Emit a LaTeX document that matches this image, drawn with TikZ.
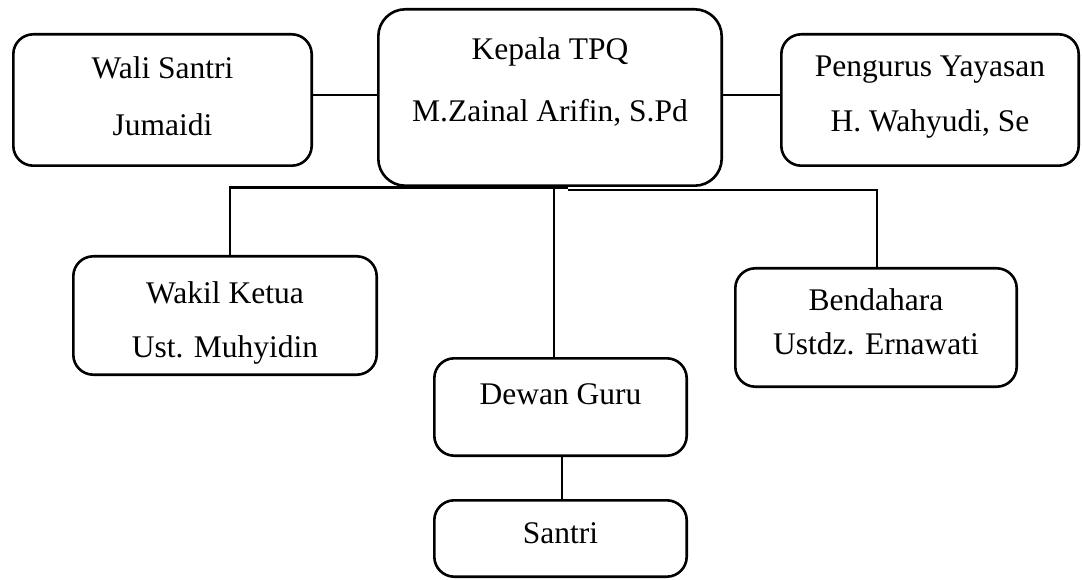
\documentclass[tikz,border=0pt]{standalone}
\usepackage{fontspec}
\setmainfont{Liberation Serif}
\tikzstyle{unit} = [rectangle, rounded corners=20pt, line width=2.6pt, draw=black, inner sep=0pt]
\tikzstyle{head} = [unit, rounded corners=27pt]
\tikzstyle{boxtext} = [anchor=base, inner sep=0pt, font=\fontsize{31.5}{38}\selectfont]
\tikzstyle{link} = [line width=2.5pt]

\begin{document}
\begin{tikzpicture}[x=1pt,y=-1pt]
    \useasboundingbox (0,0) rectangle (1082,580);

    \node at (162.5,100) [unit, minimum width=298.4pt, minimum height=131.4pt] (wali) {};
    \node at (550,97.5) [head, minimum width=343.4pt, minimum height=176.4pt] (kepala) {};
    \node at (930,100) [unit, minimum width=297.4pt, minimum height=131.4pt] (pengurus) {};
    \node at (225,315.5) [unit, minimum width=303.4pt, minimum height=118.4pt] (wakil) {};
    \node at (876,327.5) [unit, minimum width=281.4pt, minimum height=118.4pt] (bendahara) {};
    \node at (560.5,407) [unit, minimum width=252.4pt, minimum height=97.4pt] (dewan) {};
    \node at (560.5,538.5) [unit, minimum width=252.4pt, minimum height=76.4pt] (santri) {};

    \node at (162.5,79) [boxtext] (wali1) {Wali Santri};
    \node at (162.5,136) [boxtext] (wali2) {Jumaidi};
    \node at (550,60) [boxtext] (kepala1) {Kepala TPQ};
    \node at (550,122) [boxtext] (kepala2) {M.Zainal Arifin, S.Pd};
    \node at (930,77) [boxtext] (pengurus1) {Pengurus Yayasan};
    \node at (930,132) [boxtext] (pengurus2) {H. Wahyudi, Se};
    \node at (225,303) [boxtext] (wakil1) {Wakil Ketua};
    \node at (225,357) [boxtext] (wakil2) {Ust. Muhyidin};
    \node at (876,310) [boxtext] (bendahara1) {Bendahara};
    \node at (876,354) [boxtext] (bendahara2) {Ustdz. Ernawati};
    \node at (560.5,404) [boxtext] (dewan1) {Dewan Guru};
    \node at (560.5,543) [boxtext] (santri1) {Santri};

    \coordinate (tie) at (0,95);
    \coordinate (busL) at (230,187.5);
    \coordinate (busM) at (568,187.5);
    \coordinate (busR) at (877,190);
    \coordinate (drop) at (554,187.5);
    \coordinate (stem) at (562,0);

    \draw[link] (wali.east |- tie) -- (kepala.west |- tie);
    \draw[link] (kepala.east |- tie) -- (pengurus.west |- tie);
    \draw[link] (busL |- wakil.north) -- (busL) -- (busM);
    \draw[link] (busM |- busR) -- (busR) -- (busR |- bendahara.north);
    \draw[link] (drop) -- (drop |- dewan.north);
    \draw[link] (stem |- dewan.south) -- (stem |- santri.north);
\end{tikzpicture}
\end{document}
